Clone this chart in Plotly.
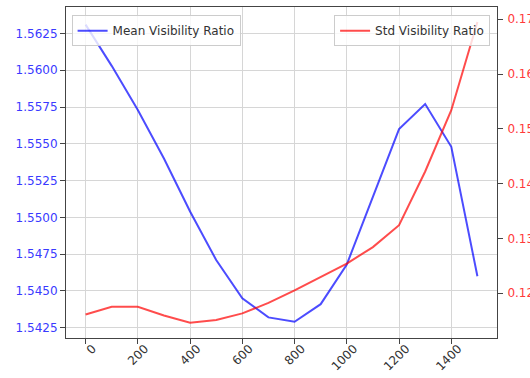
import plotly.graph_objects as go

steps = list(range(0, 1600, 100))
mean_ratio = [1.5631, 1.5603, 1.5573, 1.5540, 1.5504, 1.5471, 1.5445, 1.5432,
              1.5429, 1.5441, 1.5468, 1.5514, 1.5560, 1.5577, 1.5548, 1.5460]
std_ratio = [0.1161, 0.1175, 0.1175, 0.1159, 0.1146, 0.1151, 0.1163, 0.1182,
             0.1205, 0.1229, 0.1254, 0.1284, 0.1324, 0.1422, 0.1534, 0.1695]
x_ticks = list(range(0, 1500, 200))

FONT = "DejaVu Sans"
fig = go.Figure()
fig.add_trace(go.Scatter(
    x=steps, y=mean_ratio, mode="lines", name="Mean Visibility Ratio",
    line=dict(color="rgba(0,0,255,0.7)", width=2), yaxis="y", legend="legend"))
fig.add_trace(go.Scatter(
    x=steps, y=std_ratio, mode="lines", name="Std Visibility Ratio",
    line=dict(color="rgba(255,0,0,0.7)", width=2), yaxis="y2", legend="legend2"))

fig.update_layout(
    width=530, height=378,
    margin=dict(l=66, r=33, t=7, b=40),
    paper_bgcolor="white", plot_bgcolor="white",
    font=dict(family=FONT, size=12, color="#333"),
    showlegend=True,
    xaxis=dict(
        range=[-75, 1575], tickvals=x_ticks, tickangle=-45, automargin=False,
        ticks="outside", ticklen=5, tickcolor="#444",
        ticklabelshift=7, ticklabelstandoff=-7,
        showline=True, linecolor="#444", linewidth=1, mirror=True,
        showgrid=True, gridcolor="#d6d6d6", gridwidth=1, zeroline=False,
        tickfont=dict(family=FONT, size=12, color="#333")),
    yaxis=dict(
        range=[1.5418, 1.5643], dtick=0.0025, tick0=1.5425, tickformat=".4f",
        automargin=False,
        ticks="outside", ticklen=5, tickcolor="#444",
        showline=True, linecolor="#444", linewidth=1, mirror=True,
        showgrid=True, gridcolor="#d6d6d6", gridwidth=1, zeroline=False,
        tickfont=dict(family=FONT, size=12, color="#3a3aff")),
    yaxis2=dict(
        range=[0.1118, 0.17224], dtick=0.01, tick0=0.12, tickformat=".2f",
        overlaying="y", side="right", anchor="x", automargin=False,
        ticks="outside", ticklen=5, tickcolor="#444", ticklabelstandoff=2,
        showline=True, linecolor="#444", linewidth=1,
        showgrid=False, zeroline=False, ticklabeloverflow="allow",
        tickfont=dict(family=FONT, size=12, color="#ff3a3a")),
    legend=dict(
        x=0.013, y=0.975, xanchor="left", yanchor="top",
        bgcolor="rgba(255,255,255,0.8)", bordercolor="#cccccc", borderwidth=1,
        font=dict(family=FONT, size=12, color="#333")),
    legend2=dict(
        x=0.984, y=0.975, xanchor="right", yanchor="top",
        bgcolor="rgba(255,255,255,0.8)", bordercolor="#cccccc", borderwidth=1,
        font=dict(family=FONT, size=12, color="#333")),
)

fig.write_html("out.html", config={"displayModeBar": False},
               post_script="document.body.style.margin='0';")
